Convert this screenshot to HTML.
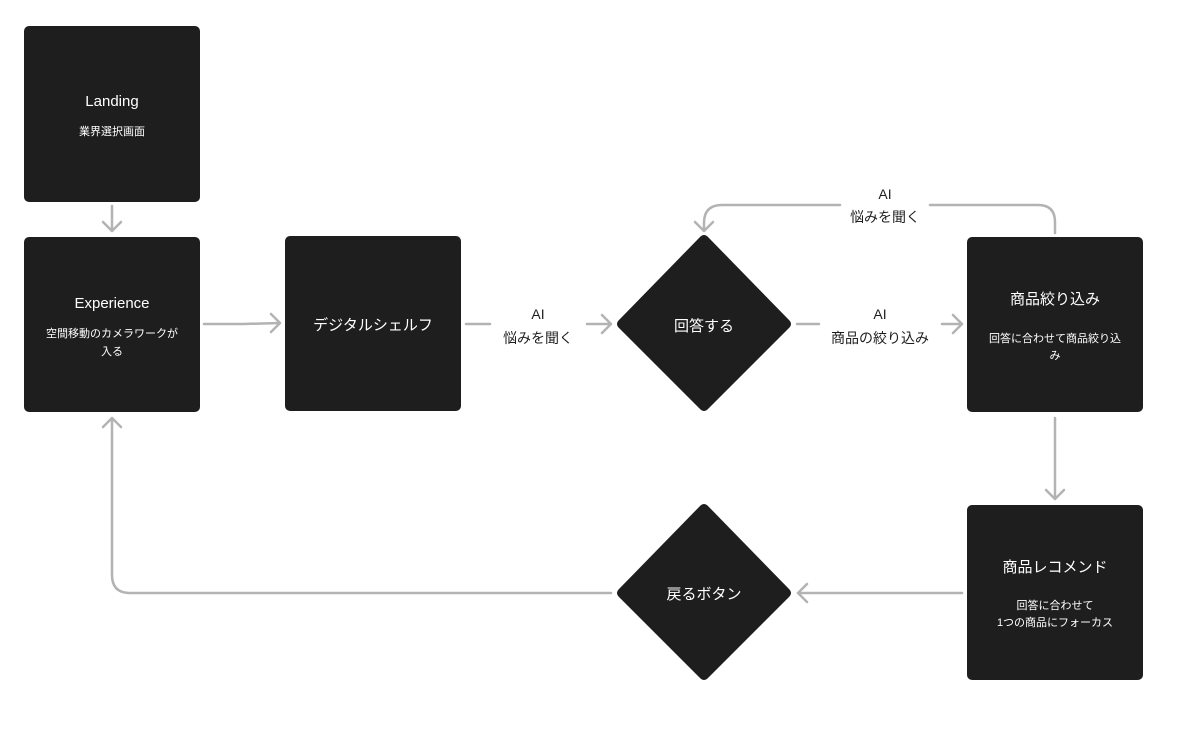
<!DOCTYPE html>
<html><head><meta charset="utf-8"><style>
html,body{margin:0;padding:0;background:#fff;}
svg{display:block;font-family:"Liberation Sans","Noto Sans CJK JP",sans-serif;}
</style></head><body>
<svg width="1178" height="730" viewBox="0 0 1178 730" xmlns="http://www.w3.org/2000/svg">
<g fill="#1e1e1e">
<rect x="24" y="26" width="176" height="176" rx="5"/>
<rect x="24" y="237" width="176" height="175" rx="5"/>
<rect x="285" y="236" width="176" height="175" rx="5"/>
<rect x="967" y="237" width="176" height="175" rx="5"/>
<rect x="967" y="505" width="176" height="175" rx="5"/>
<path d="M700 237 Q704 233 708 237 L789 320 Q793 324 789 328 L708 409 Q704 413 700 409 L619 328 Q615 324 619 320 Z"/>
<path d="M700 506 Q704 502 708 506 L789 589 Q793 593 789 597 L708 678 Q704 682 700 678 L619 597 Q615 593 619 589 Z"/>
</g>
<g fill="none" stroke="#b3b3b3" stroke-width="2.5" stroke-linecap="round" stroke-linejoin="round">
<path d="M112 206 V231 M103 222 L112 231 L121 222"/>
<path d="M204 324 H243 L280 323 M271 314 L280 323 L271 332"/>
<path d="M466 324 H490 M587 324 H611 M602 315 L611 324 L602 333"/>
<path d="M797 324 H819 M942 324 H962 M953 315 L962 324 L953 333"/>
<path d="M1055 233 V222 Q1055 205 1038 205 H930 M840 205 H722 Q704 205 704 223 V231 M695 222 L704 231 L713 222"/>
<path d="M1055 418 V499 M1046 490 L1055 499 L1064 490"/>
<path d="M962 593 H798 M807 584 L798 593 L807 602"/>
<path d="M611 593 H130 Q112 593 112 575 V418 M103 427 L112 418 L121 427"/>
</g>
<g fill="#fff" text-anchor="middle">
<text x="112" y="106" font-size="15">Landing</text>
<text x="112" y="135" font-size="11">業界選択画面</text>
<text x="112" y="308" font-size="15">Experience</text>
<text x="112" y="337" font-size="11">空間移動のカメラワークが</text>
<text x="112" y="355" font-size="11">入る</text>
<text x="373" y="330" font-size="15">デジタルシェルフ</text>
<text x="704" y="331" font-size="15">回答する</text>
<text x="1055" y="304" font-size="15">商品絞り込み</text>
<text x="1055" y="342" font-size="11">回答に合わせて商品絞り込</text>
<text x="1055" y="359" font-size="11">み</text>
<text x="1055" y="572" font-size="15">商品レコメンド</text>
<text x="1055" y="609" font-size="11">回答に合わせて</text>
<text x="1055" y="626" font-size="11">1つの商品にフォーカス</text>
<text x="704" y="599" font-size="15">戻るボタン</text>
</g>
<g fill="#1e1e1e" text-anchor="middle" font-size="14">
<text x="538" y="319">AI</text>
<text x="538" y="343">悩みを聞く</text>
<text x="880" y="319">AI</text>
<text x="880" y="343">商品の絞り込み</text>
<text x="885" y="199">AI</text>
<text x="885" y="222">悩みを聞く</text>
</g>
</svg>
</body></html>
